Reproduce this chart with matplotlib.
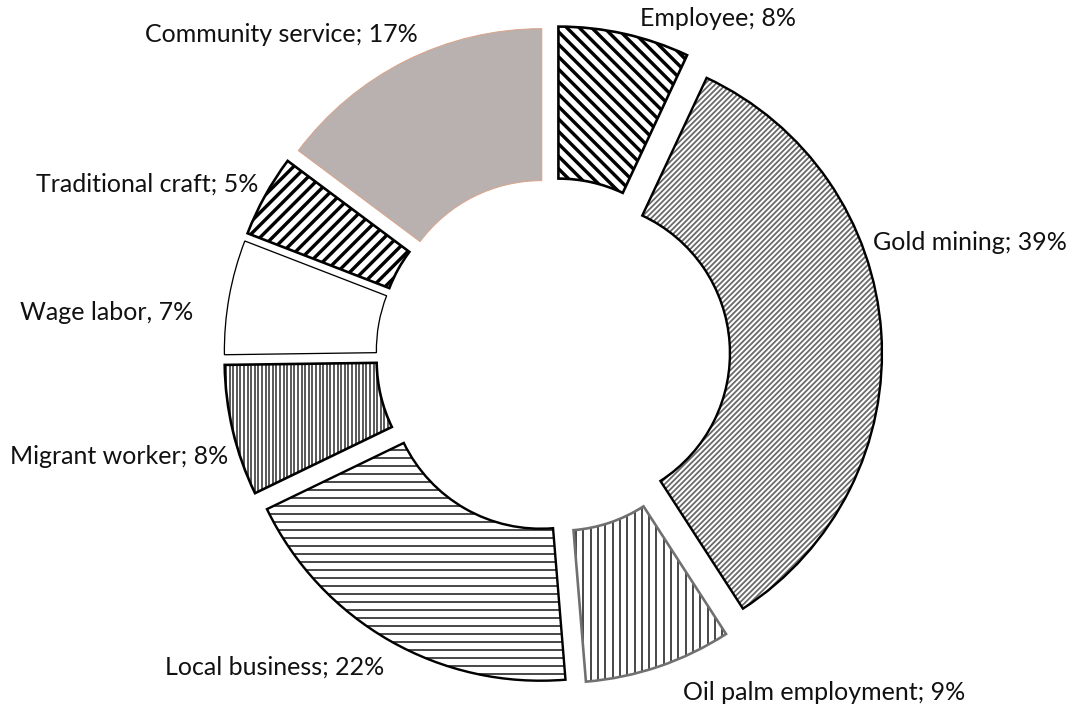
import numpy as np
import matplotlib
matplotlib.use("Agg")
import matplotlib.pyplot as plt
from matplotlib.collections import LineCollection
from matplotlib.patches import PathPatch

# Income sources (shares as reported; they sum to more than 100)
categories = ["Employee", "Gold mining", "Oil palm employment", "Local business",
              "Migrant worker", "Wage labor", "Traditional craft", "Community service"]
shares = [8, 39, 9, 22, 8, 7, 5, 17]
separators = ["; ", "; ", "; ", "; ", "; ", ", ", "; ", "; "]

W, H = 1074, 710
fig = plt.figure(figsize=(W / 100, H / 100), dpi=100)
ax = fig.add_axes([0, 0, 1, 1])

cx, cy, R = 553, H - 355, 304

wedges, _ = ax.pie(shares, radius=R, center=(cx, cy), startangle=90,
                   counterclock=False, explode=[25] * len(shares),
                   wedgeprops=dict(width=R * 0.5, linewidth=0))

# fill, hatch (angle in degrees, spacing px, width px, colour), outline colour & width
styles = [
    dict(fc="white", hatch=(-45, 8.8, 3.4, "black"), ec="black", lw=2.6),
    dict(fc="white", hatch=(45, 3.8, 1.8, "#6a6a6a"), ec="black", lw=2.4),
    dict(fc="white", hatch=(90, 7.3, 1.6, "#202020"), ec="#707070", lw=2.6),
    dict(fc="white", hatch=(0, 8.0, 1.6, "#202020"), ec="black", lw=2.4),
    dict(fc="white", hatch=(90, 3.6, 1.8, "#4a4a4a"), ec="black", lw=2.6),
    dict(fc="white", hatch=None, ec="black", lw=1.3),
    dict(fc="white", hatch=(45, 8.8, 3.4, "black"), ec="black", lw=2.6),
    dict(fc="#b9b1af", hatch=None, ec="#d9a48a", lw=1.0),
]


def hatch_lines(angle, spacing):
    a = np.deg2rad(angle)
    d = np.array([np.cos(a), np.sin(a)])
    n = np.array([-d[1], d[0]])
    L = np.hypot(W, H)
    mid = np.array([W / 2, H / 2])
    segs = []
    for k in np.arange(-L, L, spacing):
        p = mid + n * k
        segs.append([p - d * L, p + d * L])
    return segs


for w, st in zip(wedges, styles):
    w.set_facecolor(st["fc"])
    w.set_edgecolor("none")
    w.set_zorder(1)
    if st["hatch"] is not None:
        ang, sp, lw, col = st["hatch"]
        lc = LineCollection(hatch_lines(ang, sp), colors=col, linewidths=lw * 0.72,
                            zorder=2)
        ax.add_collection(lc)
        lc.set_clip_path(w)
    outline = PathPatch(w.get_path(), transform=ax.transData, fill=False,
                        edgecolor=st["ec"], linewidth=st["lw"] * 0.72,
                        joinstyle="miter", zorder=3)
    ax.add_patch(outline)

# label anchors (left edge, vertical centre) in pixels from the top-left
label_pos = [(640, 18), (873, 243), (683, 692), (165, 667),
             (10, 456), (20, 313), (36, 184), (145, 35)]

for name, val, sep, (lx, ly) in zip(categories, shares, separators, label_pos):
    ax.text(lx, H - ly, f"{name}{sep}{val}%", ha="left", va="center",
            fontsize=18, family=["Lato", "DejaVu Sans"], color="#111111")

ax.set_xlim(0, W)
ax.set_ylim(0, H)
ax.set_aspect("equal")
ax.axis("off")
fig.savefig("out.png", dpi=100, facecolor="white")
